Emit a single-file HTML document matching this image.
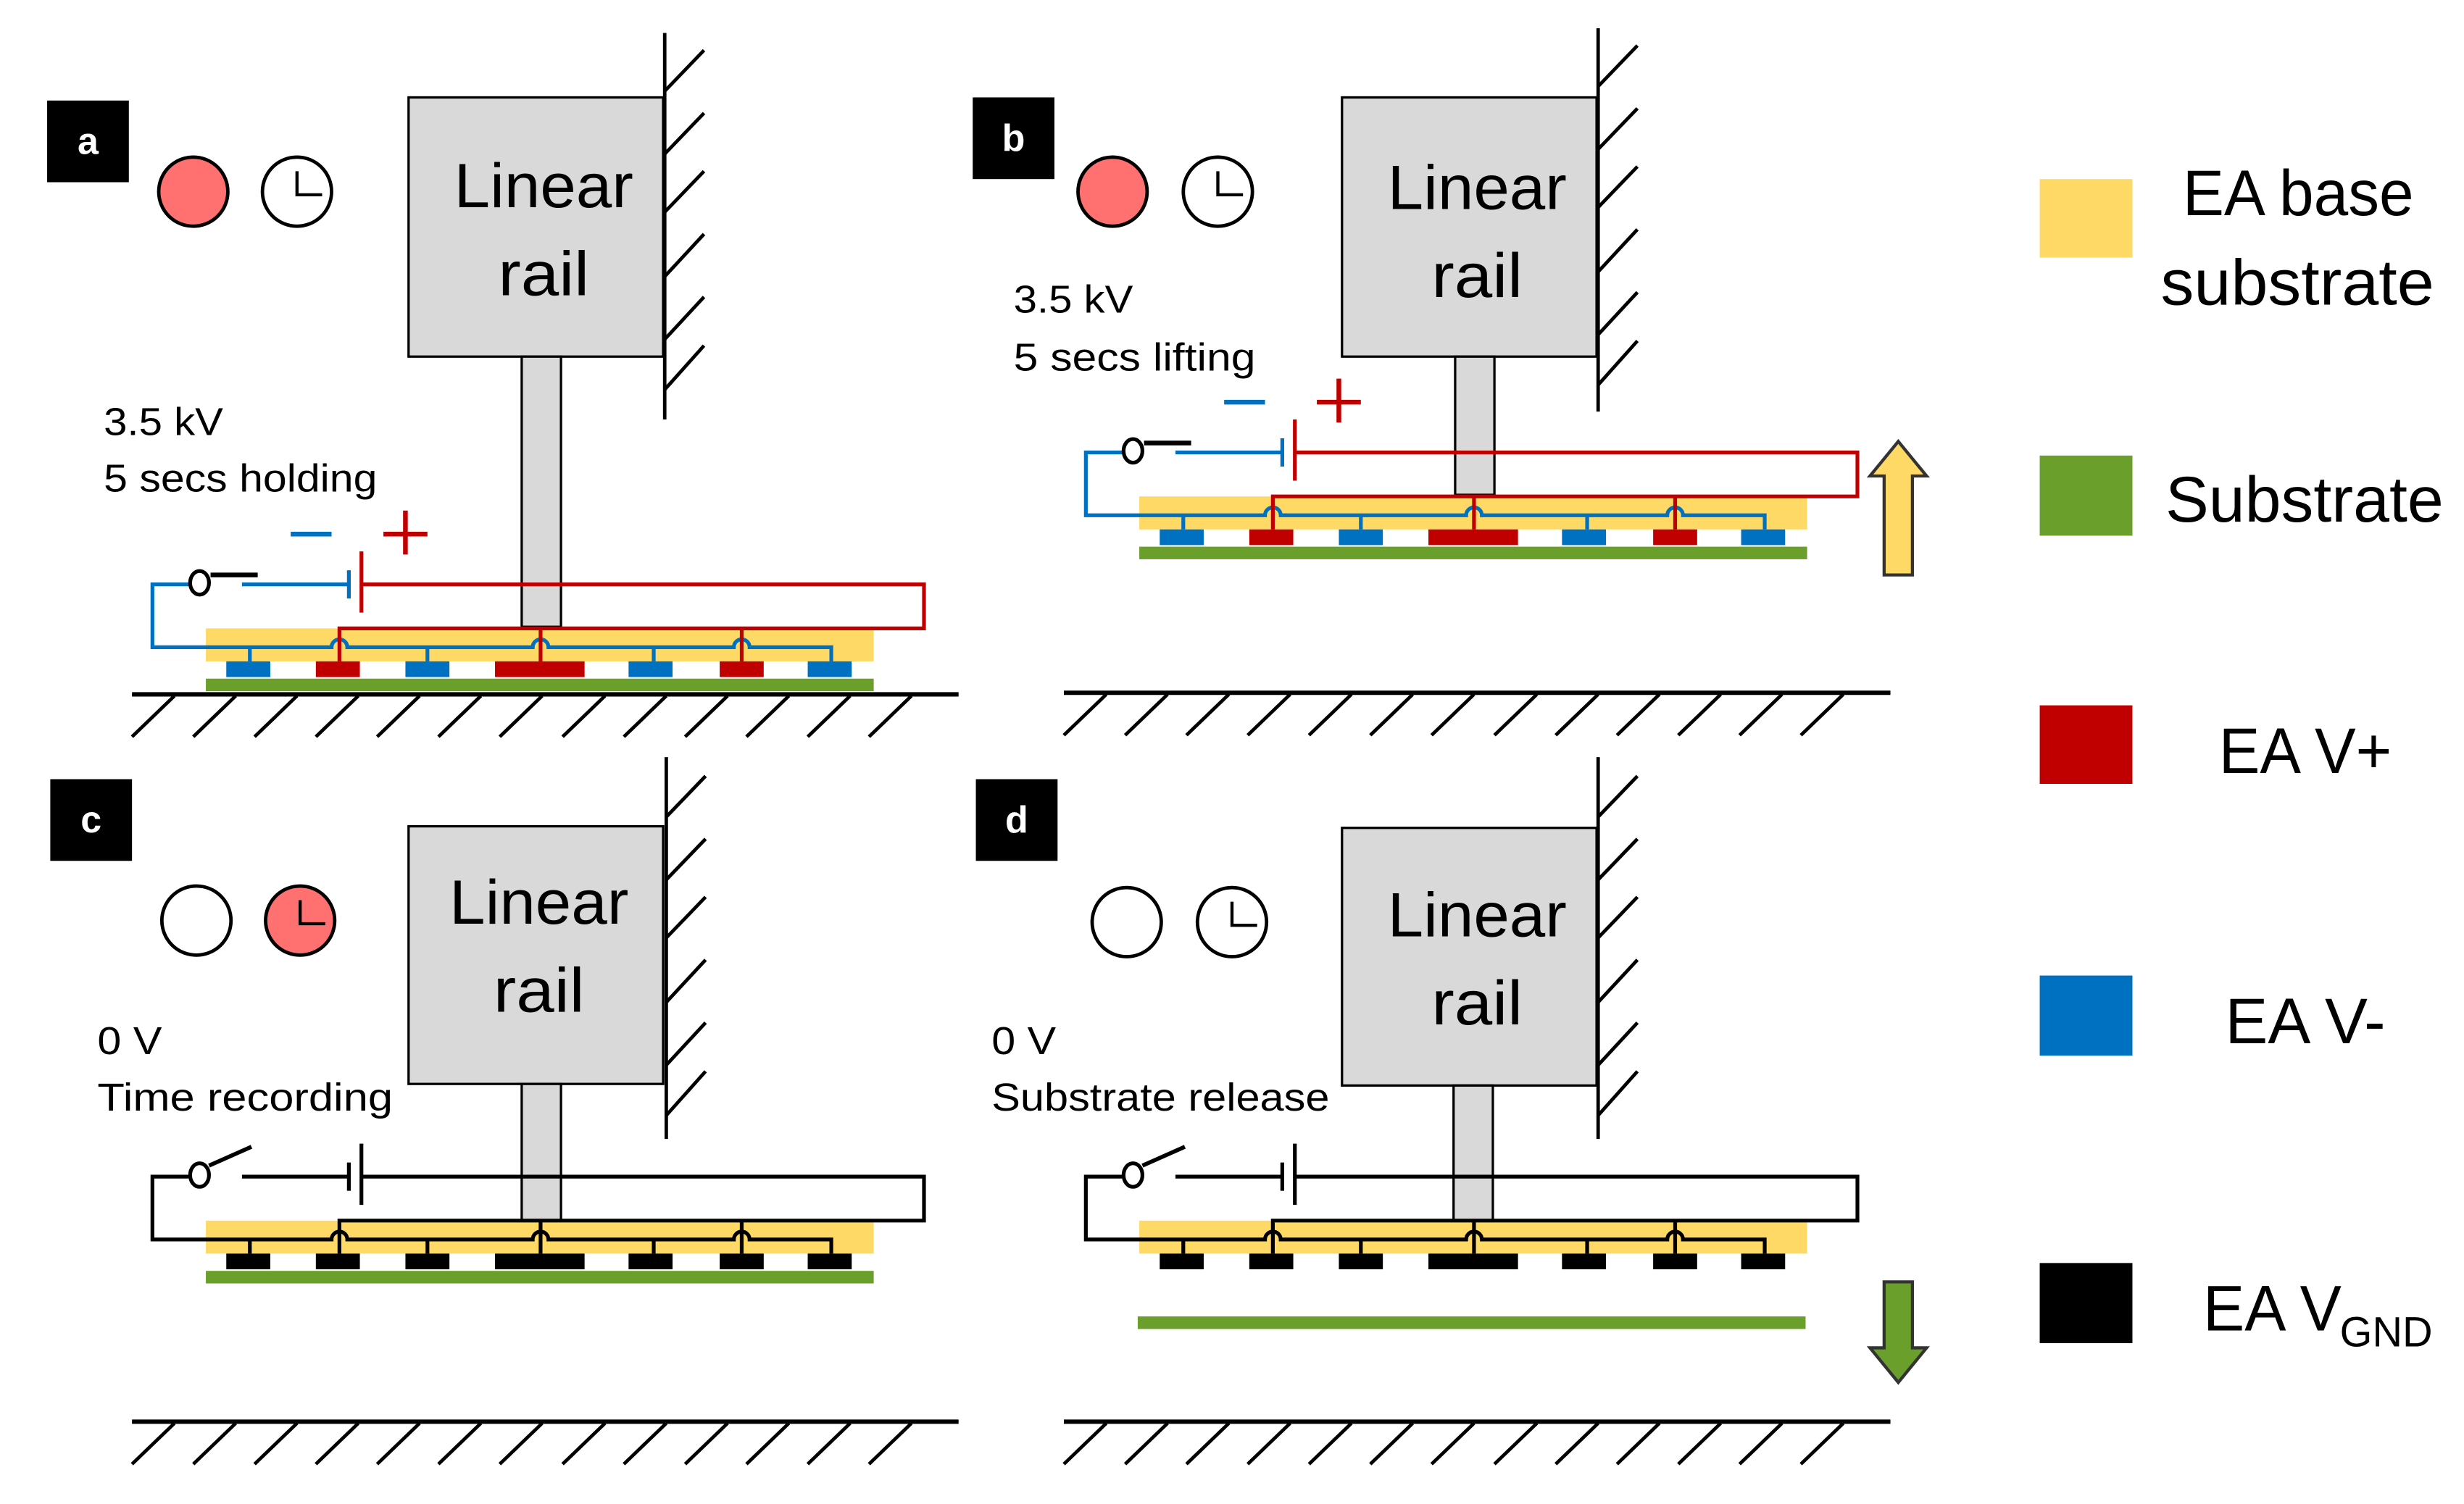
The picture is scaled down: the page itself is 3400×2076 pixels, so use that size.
<!DOCTYPE html>
<html><head><meta charset="utf-8"><style>
html,body{margin:0;padding:0;background:#fff;}
svg{display:block;}
text{font-family:"Liberation Sans",sans-serif;fill:#000;}
</style></head><body>
<svg width="3400" height="2076" viewBox="0 0 1568 957.4" preserveAspectRatio="none" xmlns="http://www.w3.org/2000/svg">
<defs>
<g id="hatchW" stroke="#000" stroke-width="2.2">
<line x1="423" y1="58" x2="448" y2="32"/><line x1="423" y1="98" x2="448" y2="72"/><line x1="423" y1="135" x2="448" y2="109"/><line x1="423" y1="176" x2="448" y2="149"/><line x1="423" y1="216" x2="448" y2="189"/><line x1="423" y1="248" x2="448" y2="220"/>
</g>
<g id="ground" stroke="#000" stroke-width="2.2">
<line x1="84" y1="442" x2="610" y2="442" stroke-width="2.8"/>
<line x1="111" y1="443" x2="84" y2="469"/><line x1="150" y1="443" x2="123" y2="469"/><line x1="189" y1="443" x2="162" y2="469"/><line x1="228" y1="443" x2="201" y2="469"/><line x1="267" y1="443" x2="240" y2="469"/><line x1="306" y1="443" x2="279" y2="469"/><line x1="345" y1="443" x2="318" y2="469"/><line x1="385" y1="443" x2="358" y2="469"/><line x1="424" y1="443" x2="397" y2="469"/><line x1="463" y1="443" x2="436" y2="469"/><line x1="502" y1="443" x2="475" y2="469"/><line x1="541" y1="443" x2="514" y2="469"/><line x1="580" y1="443" x2="553" y2="469"/>
</g>
<g id="circColor">
<rect x="131" y="400" width="425" height="21" fill="#ffd966"/>
<g fill="#0070c0"><rect x="144" y="421" width="28" height="10"/><rect x="258" y="421" width="28" height="10"/><rect x="400" y="421" width="28" height="10"/><rect x="514" y="421" width="28" height="10"/></g>
<g fill="#c00000"><rect x="201" y="421" width="28" height="10"/><rect x="315" y="421" width="57" height="10"/><rect x="458" y="421" width="28" height="10"/></g>
<g fill="none" stroke="#0070c0" stroke-width="2.4">
<path d="M120 372 H97 V412 H211 a5 5 0 0 1 10 0 H339 a5 5 0 0 1 10 0 H467 a5 5 0 0 1 10 0 H529 V421"/>
<path d="M159 412V421 M272 412V421 M416 412V421"/>
<path d="M154 372 H222 M222 363 V381"/>
<path d="M185 340 H211" stroke-width="3"/>
</g>
<g fill="none" stroke="#c00000" stroke-width="2.4">
<path d="M230 351 V390 M230 372 H588 V400 H216 V421 M344 400V421 M472 400V421"/>
<path d="M244 340 H272 M258 325 V353" stroke-width="3"/>
</g>
<ellipse cx="127" cy="371" rx="6" ry="7.5" fill="#fff" stroke="#000" stroke-width="2.4"/>
<path d="M134 366 H164" stroke="#000" stroke-width="3"/>
</g>
<g id="circBlack">
<rect x="131" y="400" width="425" height="21" fill="#ffd966"/>
<g fill="#000"><rect x="144" y="421" width="28" height="10"/><rect x="258" y="421" width="28" height="10"/><rect x="400" y="421" width="28" height="10"/><rect x="514" y="421" width="28" height="10"/><rect x="201" y="421" width="28" height="10"/><rect x="315" y="421" width="57" height="10"/><rect x="458" y="421" width="28" height="10"/></g>
<g fill="none" stroke="#000" stroke-width="2.4">
<path d="M120 372 H97 V412 H211 a5 5 0 0 1 10 0 H339 a5 5 0 0 1 10 0 H467 a5 5 0 0 1 10 0 H529 V421"/>
<path d="M159 412V421 M272 412V421 M416 412V421"/>
<path d="M154 372 H222 M222 363 V381"/>
<path d="M230 351 V390 M230 372 H588 V400 H216 V421 M344 400V421 M472 400V421"/>
</g>
<ellipse cx="127" cy="371" rx="6" ry="7.5" fill="#fff" stroke="#000" stroke-width="2.4"/>
<path d="M133 365 L160 353" stroke="#000" stroke-width="2.6"/>
</g>
</defs>

<!-- Panel a -->
<rect x="30" y="64" width="52" height="52" fill="#000"/>
<text x="56" y="98" text-anchor="middle" font-size="24" font-weight="bold" style="fill:#fff">a</text>
<circle cx="123" cy="122" r="22" fill="#ff7070" stroke="#000" stroke-width="2.2"/>
<circle cx="189" cy="122" r="22" fill="#fff" stroke="#000" stroke-width="2.2"/>
<path d="M189 109 V124 H205" fill="none" stroke="#000" stroke-width="2"/>
<line x1="423" y1="21" x2="423" y2="267" stroke="#000" stroke-width="2.2"/>
<use href="#hatchW"/>
<rect x="260" y="62" width="162" height="165" fill="#d9d9d9" stroke="#000" stroke-width="1.5"/>
<text x="346" y="132" text-anchor="middle" font-size="40" textLength="114" lengthAdjust="spacingAndGlyphs">Linear</text>
<text x="346" y="188" text-anchor="middle" font-size="40" textLength="58" lengthAdjust="spacingAndGlyphs">rail</text>
<rect x="332" y="227" width="25" height="172" fill="#d9d9d9" stroke="#000" stroke-width="1.5"/>
<text x="66" y="277" font-size="25" textLength="76" lengthAdjust="spacingAndGlyphs">3.5 kV</text>
<text x="66" y="313" font-size="25" textLength="174" lengthAdjust="spacingAndGlyphs">5 secs holding</text>
<use href="#circColor"/>
<rect x="131" y="432" width="425" height="8" fill="#6a9f2b"/>
<use href="#ground"/>

<!-- Panel b -->
<rect x="619" y="62" width="52" height="52" fill="#000"/>
<text x="645" y="96" text-anchor="middle" font-size="24" font-weight="bold" style="fill:#fff">b</text>
<circle cx="708" cy="122" r="22" fill="#ff7070" stroke="#000" stroke-width="2.2"/>
<circle cx="775" cy="122" r="22" fill="#fff" stroke="#000" stroke-width="2.2"/>
<path d="M775 109 V124 H791" fill="none" stroke="#000" stroke-width="2"/>
<g transform="translate(594,-3)">
<line x1="423" y1="21" x2="423" y2="265" stroke="#000" stroke-width="2.2"/>
<use href="#hatchW"/>
</g>
<rect x="854" y="62" width="162" height="165" fill="#d9d9d9" stroke="#000" stroke-width="1.5"/>
<text x="940" y="133" text-anchor="middle" font-size="40" textLength="114" lengthAdjust="spacingAndGlyphs">Linear</text>
<text x="940" y="189" text-anchor="middle" font-size="40" textLength="58" lengthAdjust="spacingAndGlyphs">rail</text>
<rect x="926" y="227" width="25" height="88" fill="#d9d9d9" stroke="#000" stroke-width="1.5"/>
<text x="645" y="199" font-size="25" textLength="76" lengthAdjust="spacingAndGlyphs">3.5 kV</text>
<text x="645" y="236" font-size="25" textLength="154" lengthAdjust="spacingAndGlyphs">5 secs lifting</text>
<g transform="translate(594,-84)">
<use href="#circColor"/>
<rect x="131" y="432" width="425" height="8" fill="#6a9f2b"/>
</g>
<g transform="translate(593,-1)"><use href="#ground"/></g>
<path d="M1199 366 V303 H1190 L1208 281 L1226 303 H1217 V366 Z" fill="#ffd966" stroke="#333" stroke-width="2"/>

<!-- Panel c -->
<rect x="32" y="496" width="52" height="52" fill="#000"/>
<text x="58" y="530" text-anchor="middle" font-size="24" font-weight="bold" style="fill:#fff">c</text>
<circle cx="125" cy="586" r="22" fill="#fff" stroke="#000" stroke-width="2.2"/>
<circle cx="191" cy="586" r="22" fill="#ff7070" stroke="#000" stroke-width="2.2"/>
<path d="M191 573 V588 H207" fill="none" stroke="#000" stroke-width="2"/>
<g transform="translate(1,462)">
<line x1="423" y1="20" x2="423" y2="263" stroke="#000" stroke-width="2.2"/>
<use href="#hatchW"/>
</g>
<rect x="260" y="526" width="162" height="164" fill="#d9d9d9" stroke="#000" stroke-width="1.5"/>
<text x="343" y="588" text-anchor="middle" font-size="40" textLength="114" lengthAdjust="spacingAndGlyphs">Linear</text>
<text x="343" y="644" text-anchor="middle" font-size="40" textLength="58" lengthAdjust="spacingAndGlyphs">rail</text>
<rect x="332" y="690" width="25" height="87" fill="#d9d9d9" stroke="#000" stroke-width="1.5"/>
<text x="62" y="671" font-size="25" textLength="41" lengthAdjust="spacingAndGlyphs">0 V</text>
<text x="62" y="707" font-size="25" textLength="188" lengthAdjust="spacingAndGlyphs">Time recording</text>
<g transform="translate(0,377)">
<use href="#circBlack"/>
<rect x="131" y="432" width="425" height="8" fill="#6a9f2b"/>
</g>
<g transform="translate(0,463)"><use href="#ground"/></g>

<!-- Panel d -->
<rect x="621" y="496" width="52" height="52" fill="#000"/>
<text x="647" y="530" text-anchor="middle" font-size="24" font-weight="bold" style="fill:#fff">d</text>
<circle cx="717" cy="587" r="22" fill="#fff" stroke="#000" stroke-width="2.2"/>
<circle cx="784" cy="587" r="22" fill="#fff" stroke="#000" stroke-width="2.2"/>
<path d="M784 574 V589 H800" fill="none" stroke="#000" stroke-width="2"/>
<g transform="translate(594,462)">
<line x1="423" y1="20" x2="423" y2="263" stroke="#000" stroke-width="2.2"/>
<use href="#hatchW"/>
</g>
<rect x="854" y="527" width="162" height="164" fill="#d9d9d9" stroke="#000" stroke-width="1.5"/>
<text x="940" y="596" text-anchor="middle" font-size="40" textLength="114" lengthAdjust="spacingAndGlyphs">Linear</text>
<text x="940" y="652" text-anchor="middle" font-size="40" textLength="58" lengthAdjust="spacingAndGlyphs">rail</text>
<rect x="925" y="691" width="25" height="86" fill="#d9d9d9" stroke="#000" stroke-width="1.5"/>
<text x="631" y="671" font-size="25" textLength="41" lengthAdjust="spacingAndGlyphs">0 V</text>
<text x="631" y="707" font-size="25" textLength="215" lengthAdjust="spacingAndGlyphs">Substrate release</text>
<g transform="translate(594,377)"><use href="#circBlack"/></g>
<rect x="724" y="838" width="425" height="8" fill="#6a9f2b"/>
<g transform="translate(593,463)"><use href="#ground"/></g>
<path d="M1199 816 V858 H1190 L1208 880 L1226 858 H1217 V816 Z" fill="#6a9f2b" stroke="#333" stroke-width="2"/>

<!-- Legend -->
<rect x="1298" y="114" width="59" height="50" fill="#ffd966"/>
<rect x="1298" y="290" width="59" height="51" fill="#6a9f2b"/>
<rect x="1298" y="449" width="59" height="50" fill="#c00000"/>
<rect x="1298" y="621" width="59" height="51" fill="#0070c0"/>
<rect x="1298" y="804" width="59" height="51" fill="#000"/>
<g font-size="41">
<text x="1389" y="137" textLength="147" lengthAdjust="spacingAndGlyphs">EA base</text>
<text x="1375" y="194" textLength="174" lengthAdjust="spacingAndGlyphs">substrate</text>
<text x="1378" y="332" textLength="177" lengthAdjust="spacingAndGlyphs">Substrate</text>
<text x="1412" y="492" textLength="110" lengthAdjust="spacingAndGlyphs">EA V+</text>
<text x="1416" y="664" textLength="102" lengthAdjust="spacingAndGlyphs">EA V-</text>
<text x="1402" y="847" textLength="88" lengthAdjust="spacingAndGlyphs">EA V</text>
<text x="1489" y="857" font-size="27" textLength="59" lengthAdjust="spacingAndGlyphs">GND</text>
</g>
</svg>
</body></html>
